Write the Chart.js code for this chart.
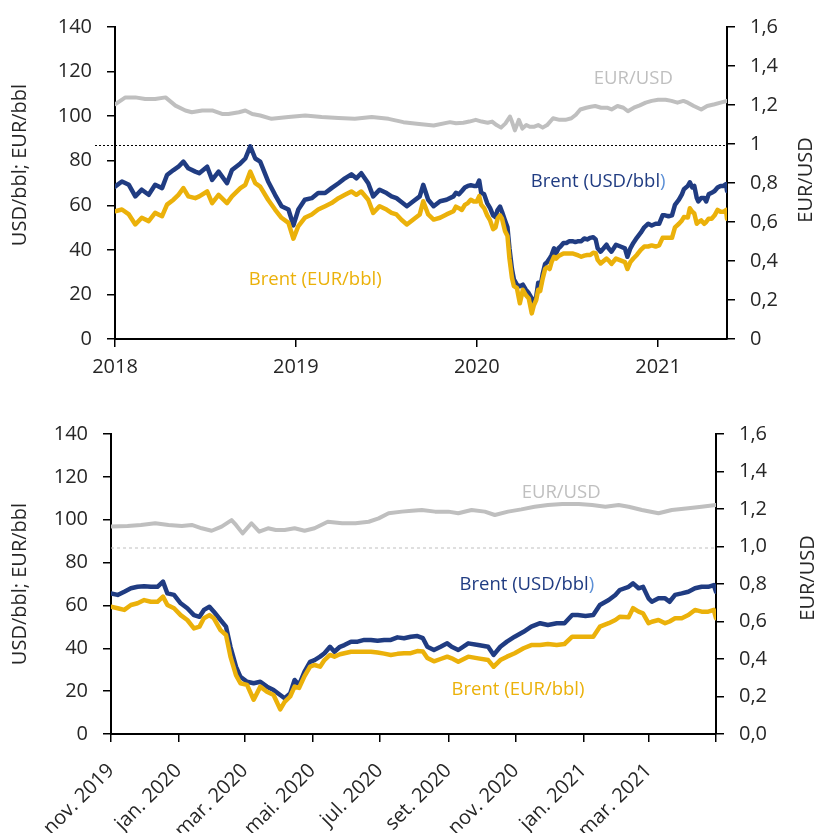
<!DOCTYPE html>
<html>
<head>
<meta charset="utf-8">
<script src="https://cdn.jsdelivr.net/npm/chart.js@4.4.1/dist/chart.umd.min.js"></script>
<style>
  body { margin: 0; background: #fff; }
  canvas { display: block; }
</style>
</head>
<body>
<canvas id="chart-top" width="819" height="400"></canvas>
<canvas id="chart-bottom" width="819" height="433"></canvas>
<script>
// Brent prices (USD/bbl and EUR/bbl)
const brentDates = [
  '2018-01-01','2018-01-15','2018-01-29','2018-02-11','2018-02-24','2018-03-10','2018-03-23','2018-04-06',
  '2018-04-16','2018-04-29','2018-05-09','2018-05-19','2018-05-29','2018-06-12','2018-06-20','2018-07-06',
  '2018-07-16','2018-07-29','2018-08-15','2018-08-25','2018-09-11','2018-09-21','2018-10-01','2018-10-11',
  '2018-10-21','2018-11-06','2018-11-20','2018-12-03','2018-12-17','2018-12-27','2019-01-06','2019-01-19',
  '2019-02-02','2019-02-15','2019-03-01','2019-03-14','2019-03-28','2019-04-10','2019-04-23','2019-05-03',
  '2019-05-13','2019-05-27','2019-06-06','2019-06-19','2019-07-03','2019-07-13','2019-07-23','2019-08-02',
  '2019-08-13','2019-08-26','2019-09-08','2019-09-15','2019-09-25','2019-10-06','2019-10-19','2019-11-01',
  '2019-11-15','2019-11-20','2019-11-26','2019-12-02','2019-12-08','2019-12-14','2019-12-20','2019-12-26',
  '2020-01-01','2020-01-06','2020-01-10','2020-01-16','2020-01-22','2020-01-28','2020-02-03','2020-02-08',
  '2020-02-12','2020-02-17','2020-02-21','2020-02-27','2020-03-03','2020-03-07','2020-03-12','2020-03-16',
  '2020-03-22','2020-03-28','2020-04-03','2020-04-09','2020-04-15','2020-04-21','2020-04-25','2020-04-30',
  '2020-05-04','2020-05-08','2020-05-13','2020-05-18','2020-05-22','2020-05-27','2020-05-31','2020-06-05',
  '2020-06-09','2020-06-14','2020-06-18','2020-06-24','2020-06-30','2020-07-06','2020-07-12','2020-07-18',
  '2020-07-24','2020-07-30','2020-08-05','2020-08-11','2020-08-17','2020-08-23','2020-08-28','2020-09-01',
  '2020-09-07','2020-09-13','2020-09-19','2020-09-23','2020-09-29','2020-10-08','2020-10-17','2020-10-26',
  '2020-10-31','2020-11-06','2020-11-12','2020-11-19','2020-11-27','2020-12-04','2020-12-12','2020-12-19',
  '2020-12-27','2021-01-03','2021-01-10','2021-01-15','2021-01-22','2021-01-29','2021-02-04','2021-02-12',
  '2021-02-18','2021-02-22','2021-03-02','2021-03-06','2021-03-11','2021-03-15','2021-03-20','2021-03-23',
  '2021-03-29','2021-04-04','2021-04-08','2021-04-13','2021-04-19','2021-04-25','2021-05-01','2021-05-07',
  '2021-05-13','2021-05-18','2021-05-20'
];
const brentUsd = [
  68.4, 70.7, 69.2, 64.0, 67.0, 64.7, 69.2, 67.7,
  73.6, 75.8, 77.3, 79.6, 76.6, 75.1, 74.4, 77.3,
  71.4, 75.1, 69.9, 75.8, 78.8, 81.0, 86.5, 81.0,
  79.6, 70.7, 64.7, 59.6, 58.1, 51.0, 58.1, 62.5,
  63.2, 65.5, 65.5, 67.7, 69.9, 72.1, 73.9, 72.1,
  74.4, 69.9, 64.0, 67.0, 65.5, 64.0, 63.2, 61.5,
  59.6, 61.8, 64.0, 69.2, 62.5, 59.6, 61.8, 62.5,
  64.0, 65.6, 64.9, 66.4, 68.0, 68.7, 69.0, 68.7,
  68.7, 71.1, 65.6, 64.9, 61.0, 58.7, 55.5, 54.7,
  57.9, 59.4, 57.1, 53.2, 50.1, 40.7, 31.4, 26.7,
  24.4, 23.7, 24.4, 22.1, 20.5, 18.2, 16.7, 18.9,
  25.2, 22.9, 29.1, 33.7, 34.5, 36.1, 37.7, 40.7,
  38.4, 40.7, 41.5, 43.1, 43.1, 43.9, 43.9, 43.5,
  43.9, 43.9, 45.1, 44.7, 45.4, 45.7, 44.7, 40.7,
  39.2, 40.7, 42.3, 40.7, 39.2, 42.3, 41.5, 40.7,
  36.9, 40.7, 43.1, 45.4, 47.7, 50.1, 51.7, 50.9,
  51.7, 51.7, 55.5, 55.5, 55.1, 55.5, 60.2, 62.5,
  64.9, 67.2, 68.7, 70.3, 68.0, 68.7, 63.3, 61.7,
  63.3, 63.3, 61.7, 64.9, 65.6, 66.4, 68.0, 68.7,
  68.7, 69.5, 66.4
];
const brentEur = [
  57.3, 58.1, 55.9, 51.4, 54.4, 52.9, 56.6, 55.1,
  60.3, 62.5, 64.7, 67.7, 64.0, 63.2, 64.0, 66.2,
  61.0, 64.7, 61.0, 64.0, 67.7, 69.2, 75.1, 69.9,
  68.4, 62.5, 58.1, 54.4, 52.1, 45.0, 50.7, 54.4,
  55.9, 58.1, 59.6, 61.0, 63.2, 64.7, 66.2, 64.7,
  66.2, 62.5, 56.6, 59.6, 58.1, 56.6, 55.9, 53.5,
  51.4, 53.6, 55.9, 61.8, 55.9, 53.6, 54.4, 55.9,
  57.3, 59.4, 58.7, 57.9, 60.2, 61.0, 62.5, 61.7,
  61.7, 64.1, 60.2, 58.7, 55.5, 53.2, 49.3, 50.1,
  54.0, 55.5, 54.0, 48.5, 46.2, 36.1, 27.5, 23.7,
  22.9, 16.0, 22.1, 19.7, 18.2, 11.5, 15.0, 17.5,
  22.1, 21.5, 27.0, 31.4, 32.2, 31.4, 34.5, 36.9,
  36.1, 37.2, 37.7, 38.4, 38.4, 38.4, 38.4, 38.0,
  37.5, 36.9, 37.4, 37.7, 37.7, 38.7, 38.5, 35.5,
  33.9, 35.0, 36.1, 35.3, 33.7, 36.1, 35.3, 34.5,
  31.4, 34.5, 36.1, 37.7, 40.0, 41.5, 41.5, 42.0,
  41.5, 42.0, 45.4, 45.4, 45.4, 45.4, 50.1, 51.7,
  53.2, 54.7, 54.5, 58.7, 57.1, 56.3, 51.7, 52.4,
  53.2, 51.7, 52.5, 54.0, 54.0, 55.5, 57.9, 57.1,
  57.1, 57.9, 54.0
];

// EUR/USD exchange rate (right axis)
const fxDates = [
  '2018-01-02','2018-01-22','2018-02-11','2018-03-03','2018-03-23','2018-04-13','2018-05-03','2018-05-23',
  '2018-06-05','2018-06-26','2018-07-16','2018-08-05','2018-08-18','2018-09-08','2018-09-21','2018-10-05',
  '2018-10-21','2018-11-13','2018-12-17','2019-01-20','2019-02-22','2019-03-28','2019-04-30','2019-06-03',
  '2019-07-07','2019-08-06','2019-09-02','2019-10-06','2019-11-08','2019-11-20','2019-12-05','2019-12-17',
  '2019-12-30','2020-01-11','2020-01-23','2020-02-01','2020-02-10','2020-02-19','2020-02-28','2020-03-08',
  '2020-03-12','2020-03-18','2020-03-26','2020-04-02','2020-04-10','2020-04-17','2020-04-25','2020-05-04',
  '2020-05-13','2020-05-22','2020-06-03','2020-06-16','2020-06-28','2020-07-10','2020-07-19','2020-07-28',
  '2020-08-09','2020-08-18','2020-08-27','2020-09-08','2020-09-20','2020-09-29','2020-10-11','2020-10-23',
  '2020-11-01','2020-11-13','2020-11-25','2020-12-07','2020-12-19','2021-01-01','2021-01-16','2021-01-28',
  '2021-02-09','2021-02-21','2021-03-02','2021-03-14','2021-03-29','2021-04-10','2021-04-25','2021-05-07',
  '2021-05-20'
];
const eurUsd = [
  1.205, 1.239, 1.239, 1.231, 1.231, 1.239, 1.197, 1.172,
  1.163, 1.172, 1.172, 1.154, 1.154, 1.163, 1.172, 1.154,
  1.146, 1.129, 1.138, 1.146, 1.138, 1.133, 1.129, 1.138,
  1.129, 1.112, 1.104, 1.095, 1.112, 1.106, 1.109, 1.115,
  1.124, 1.115, 1.109, 1.115, 1.097, 1.084, 1.106, 1.141,
  1.115, 1.070, 1.124, 1.079, 1.097, 1.088, 1.088, 1.097,
  1.084, 1.097, 1.132, 1.124, 1.124, 1.132, 1.150, 1.177,
  1.186, 1.191, 1.195, 1.186, 1.186, 1.177, 1.195, 1.186,
  1.168, 1.186, 1.198, 1.212, 1.221, 1.227, 1.227, 1.221,
  1.212, 1.221, 1.212, 1.195, 1.177, 1.195, 1.204, 1.212,
  1.221
];

const topYearTicks = ['2018-01-01', '2019-01-01', '2020-01-01', '2021-01-01'];
const bottomMonthTicks = ['2019-11-20', '2020-01-20', '2020-03-20', '2020-05-20', '2020-07-20',
  '2020-09-20', '2020-11-20', '2021-01-20', '2021-03-20', '2021-05-20'];
const monthNames = ['jan.', 'fev.', 'mar.', 'abr.', 'mai.', 'jun.', 'jul.', 'ago.', 'set.', 'out.', 'nov.', 'dez.'];

const BLUE = '#203C82'
const BLUE_LIGHT = '#5B8FD6'
const GOLD = '#EBB10A'
const GREY = '#BFBFBF'
const FONT = 'Open Sans'

function dayOf(s) {
  const p = s.split('-')
  return Date.UTC(+p[0], +p[1] - 1, +p[2]) / 86400000
}
function pointsOf(dates, values, from) {
  return dates.map((d, i) => ({ x: dayOf(d), y: values[i] })).filter(p => p.x >= dayOf(from))
}

Chart.defaults.font.family = FONT
Chart.defaults.color = '#262626'

// parity line, series labels and axis titles
const chartText = {
  id: 'chartText',
  beforeDatasetsDraw(chart, args, opts) {
    const ctx = chart.ctx, area = chart.chartArea
    const y = chart.scales.y2.getPixelForValue(opts.parity.value)
    ctx.save()
    ctx.strokeStyle = opts.parity.color
    ctx.lineWidth = 1
    ctx.setLineDash(opts.parity.dash)
    ctx.beginPath()
    ctx.moveTo(area.left - opts.parity.overhang, y + 1.5)
    ctx.lineTo(area.right, y + 1.5)
    ctx.stroke()
    ctx.restore()
  },
  afterDatasetsDraw(chart, args, opts) {
    const ctx = chart.ctx
    ctx.save()
    ctx.textBaseline = 'middle'
    ctx.textAlign = 'left'
    ctx.font = '18.5px "' + FONT + '"'
    opts.labels.forEach(l => {
      const tail = l.tail || ''
      const w = ctx.measureText(l.text + tail).width
      const x = chart.scales.x.getPixelForValue(dayOf(l.date)) - w / 2
      const y = chart.scales[l.axis].getPixelForValue(l.value)
      ctx.fillStyle = l.color
      ctx.fillText(l.text, x, y)
      if (tail) {
        ctx.fillStyle = l.tailColor
        ctx.fillText(tail, x + ctx.measureText(l.text).width, y)
      }
    })
    ctx.textAlign = 'center'
    opts.titles.forEach(t => {
      ctx.save()
      ctx.translate(t.x, t.y)
      ctx.rotate(-Math.PI / 2)
      ctx.font = '20px "' + FONT + '"'
      ctx.fillStyle = '#262626'
      ctx.fillText(t.text, 0, 0)
      ctx.restore()
    })
    ctx.restore()
  }
}

function axisStyle() {
  return {
    border: { display: true, color: '#000', width: 2 },
    grid: { drawOnChartArea: false, drawTicks: true, tickLength: 8, tickColor: '#000', lineWidth: 1.5 }
  }
}

function makeChart(id, cfg) {
  const from = cfg.xMin
  return new Chart(document.getElementById(id), {
    type: 'line',
    data: {
      datasets: [
        { label: 'Brent (EUR/bbl)', data: pointsOf(brentDates, brentEur, from), borderColor: GOLD, borderWidth: 4.5, yAxisID: 'y' },
        { label: 'Brent (USD/bbl)', data: pointsOf(brentDates, brentUsd, from), borderColor: BLUE, borderWidth: 4.5, yAxisID: 'y' },
        { label: 'EUR/USD', data: pointsOf(fxDates, eurUsd, from), borderColor: GREY, borderWidth: 4, yAxisID: 'y2' }
      ]
    },
    options: {
      responsive: false,
      animation: false,
      devicePixelRatio: 1,
      layout: { padding: { top: cfg.padTop, left: 0, right: 0, bottom: 0 } },
      elements: {
        point: { radius: 0 },
        line: { tension: 0, borderJoinStyle: 'round', borderCapStyle: 'round' }
      },
      plugins: {
        legend: { display: false },
        tooltip: { enabled: false },
        chartText: { parity: cfg.parity, labels: cfg.labels, titles: cfg.titles }
      },
      scales: {
        x: {
          type: 'linear',
          min: dayOf(cfg.xMin),
          max: dayOf(cfg.xMax),
          ...axisStyle(),
          afterBuildTicks: axis => { axis.ticks = cfg.xTicks.map(d => ({ value: dayOf(d) })) },
          afterFit: axis => { axis.height = cfg.xHeight },
          ticks: {
            autoSkip: false,
            maxRotation: cfg.rotation,
            minRotation: cfg.rotation,
            padding: cfg.xPad,
            font: { size: 20 },
            callback: cfg.xLabel
          }
        },
        y: {
          position: 'left',
          min: 0,
          max: 140,
          ...axisStyle(),
          afterFit: axis => { axis.width = cfg.leftWidth },
          ticks: { stepSize: 20, padding: 15, font: { size: 20 } }
        },
        y2: {
          position: 'right',
          min: 0,
          max: 1.6,
          ...axisStyle(),
          afterFit: axis => { axis.width = cfg.rightWidth },
          ticks: { stepSize: 0.2, padding: 15, font: { size: 20 }, callback: cfg.fxLabel }
        }
      }
    },
    plugins: [chartText]
  })
}

makeChart('chart-top', {
  xMin: '2018-01-01', xMax: '2021-05-20', xTicks: topYearTicks,
  xLabel: v => String(new Date(v * 86400000).getUTCFullYear()),
  fxLabel: v => String(Number(v.toFixed(1))).replace('.', ','),
  rotation: 0, xPad: 8, xHeight: 61, padTop: 24, leftWidth: 115, rightWidth: 92,
  parity: { value: 1, color: '#000', dash: [2, 2], overhang: 20 },
  labels: [
    { text: 'EUR/USD', date: '2020-11-12', value: 1.336, axis: 'y2', color: GREY },
    { text: 'Brent (USD/bbl', tail: ')', tailColor: BLUE_LIGHT, date: '2020-09-02', value: 70.7, axis: 'y', color: BLUE },
    { text: 'Brent (EUR/bbl)', date: '2019-02-09', value: 26.7, axis: 'y', color: GOLD }
  ],
  titles: [
    { text: 'USD/bbl; EUR/bbl', x: 20, y: 165 },
    { text: 'EUR/USD', x: 806, y: 180 }
  ]
})

makeChart('chart-bottom', {
  xMin: '2019-11-20', xMax: '2021-05-20', xTicks: bottomMonthTicks,
  xLabel: (v, i, ticks) => {
    if (i === ticks.length - 1) return ''
    const d = new Date(v * 86400000)
    return monthNames[d.getUTCMonth()] + ' ' + d.getUTCFullYear()
  },
  fxLabel: v => v.toFixed(1).replace('.', ','),
  rotation: 45, xPad: 17, xHeight: 99, padTop: 34, leftWidth: 111, rightWidth: 103,
  parity: { value: 1, color: '#BFBFBF', dash: [3, 3], overhang: 0 },
  labels: [
    { text: 'EUR/USD', date: '2020-12-31', value: 1.285, axis: 'y2', color: GREY },
    { text: 'Brent (USD/bbl', tail: ')', tailColor: BLUE_LIGHT, date: '2020-11-30', value: 69.5, axis: 'y', color: BLUE },
    { text: 'Brent (EUR/bbl)', date: '2020-11-22', value: 20.5, axis: 'y', color: GOLD }
  ],
  titles: [
    { text: 'USD/bbl; EUR/bbl', x: 20, y: 184 },
    { text: 'EUR/USD', x: 808, y: 178 }
  ]
})
</script>
</body>
</html>
